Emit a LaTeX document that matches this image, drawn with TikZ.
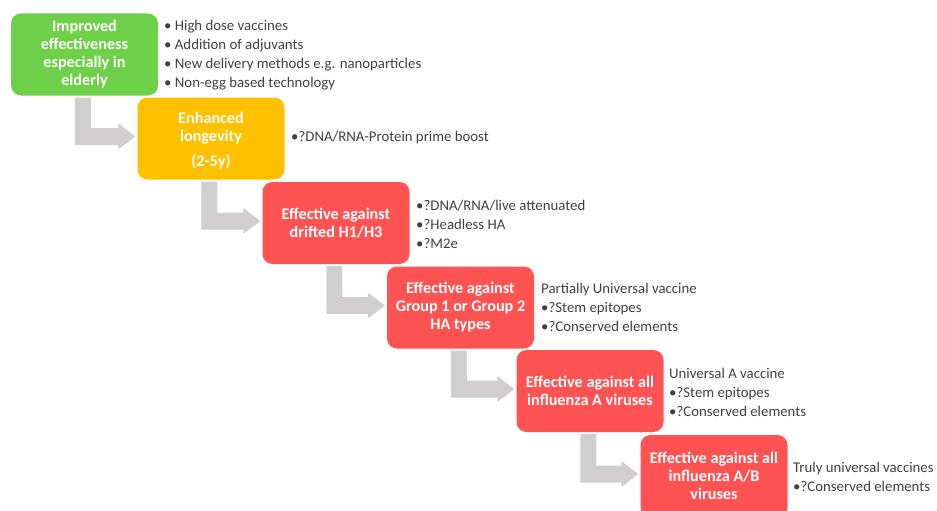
\documentclass[tikz,border=0pt]{standalone}
\usepackage{fontspec}
\setmainfont{Carlito}
\usetikzlibrary{calc}
\definecolor{boxgreen}{RGB}{110,207,72}
\definecolor{boxorange}{RGB}{255,192,0}
\definecolor{boxred}{RGB}{255,82,82}
\definecolor{arrowgray}{RGB}{208,206,206}
\definecolor{txtgray}{RGB}{64,64,64}
\tikzset{
  stepbox/.style={rounded corners=10pt, minimum width=147pt, minimum height=82pt,
    inner sep=2pt, align=center, text=white,
    font=\fontsize{16.2}{18}\selectfont\bfseries},
  notes/.style={anchor=west, align=left, inner sep=0pt, text=txtgray,
    font=\fontsize{14.8}{19}\selectfont},
  bentarrow/.style={fill=arrowgray},
}
\newcommand{\bentarrow}[2]{%
  \coordinate (T) at ($(#2.west)+(-2,-2)$);
  \fill[bentarrow] ($(#1.south west)+(64,2)$) -- ($(#1.south west)+(80,2)$)
    |- ($(T)+(-17,-8.5)$) -- ($(T)+(-17,-13)$) -- (T) -- ($(T)+(-17,13)$)
    -- ($(T)+(-17,8.5)$) -| ($(#1.south west)+(64,2)$) -- cycle;}
\begin{document}
\begin{tikzpicture}[x=1pt,y=-1pt]
\clip (0,0) rectangle (937,511);
\useasboundingbox (0,0) rectangle (937,511);
\node[stepbox, fill=boxgreen] (b1) at (84.5,54.5) {Improved\\effectiveness\\especially in\\elderly};
\node[stepbox, fill=boxorange] (b2) at (211,138.5) {\rule{0pt}{15pt}Enhanced\\longevity\\[7pt](2-5y)};
\node[stepbox, fill=boxred] (b3) at (336,223) {Effective against\\drifted H1/H3};
\node[stepbox, fill=boxred] (b4) at (460.5,307.5) {Effective against\\Group 1 or Group 2\\HA types};
\node[stepbox, fill=boxred] (b5) at (590,391) {Effective against all\\influenza A viruses};
\node[stepbox, fill=boxred] (b6) at (714,476) {Effective against all\\influenza A/B\\viruses};
\bentarrow{b1}{b2}
\bentarrow{b2}{b3}
\bentarrow{b3}{b4}
\bentarrow{b4}{b5}
\bentarrow{b5}{b6}
\node[notes] (n1) at (164,55) {• High dose vaccines\\• Addition of adjuvants\\• New delivery methods e.g. nanoparticles\\• Non-egg based technology};
\node[notes] (n2) at (291,137.5) {•?DNA/RNA-Protein prime boost};
\node[notes] (n3) at (416,224) {•?DNA/RNA/live attenuated\\•?Headless HA\\•?M2e};
\node[notes] (n4) at (541,307) {Partially Universal vaccine\\•?Stem epitopes\\•?Conserved elements};
\node[notes] (n5) at (669,392) {Universal A vaccine\\•?Stem epitopes\\•?Conserved elements};
\node[notes] (n6) at (793,477) {Truly universal vaccines\\•?Conserved elements};
\end{tikzpicture}
\end{document}
